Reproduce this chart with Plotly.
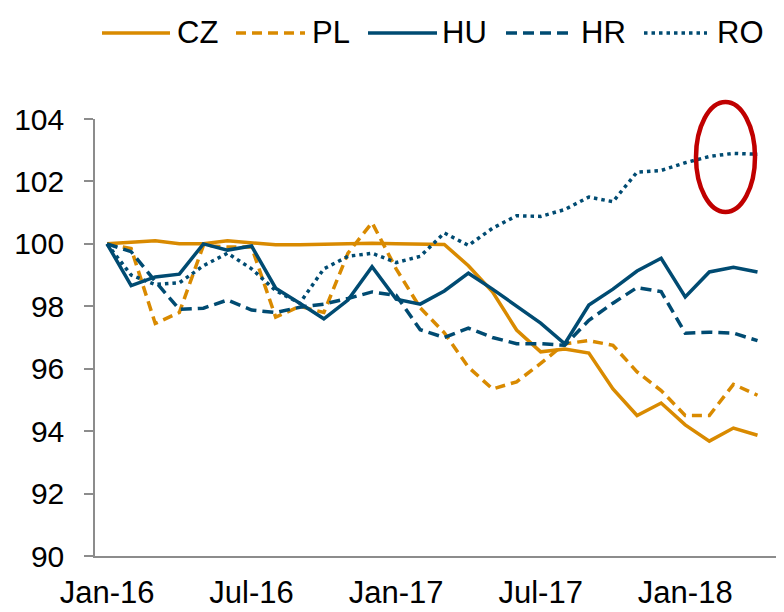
import plotly.graph_objects as go

months = ["Jan-16","Feb-16","Mar-16","Apr-16","May-16","Jun-16","Jul-16","Aug-16","Sep-16","Oct-16","Nov-16","Dec-16",
          "Jan-17","Feb-17","Mar-17","Apr-17","May-17","Jun-17","Jul-17","Aug-17","Sep-17","Oct-17","Nov-17","Dec-17",
          "Jan-18","Feb-18","Mar-18","Apr-18"]
tick_labels = ["Jan-16", "Jul-16", "Jan-17", "Jul-17", "Jan-18"]

cz = [100.0, 100.05, 100.1, 100.0, 100.0, 100.1, 100.03, 99.97, 99.97, 99.98, 100.0, 100.02,
      100.0, 99.98, 99.98, 99.3, 98.46, 97.24, 96.54, 96.63, 96.5, 95.35, 94.5, 94.9,
      94.2, 93.68, 94.1, 93.87]
pl = [100.0, 99.85, 97.45, 97.8, 99.95, 99.9, 99.9, 97.65, 98.0, 97.8, 99.7, 100.68,
      99.2, 97.95, 97.15, 96.05, 95.35, 95.58, 96.17, 96.8, 96.9, 96.75, 95.9, 95.3,
      94.5, 94.5, 95.5, 95.15]
hu = [100.0, 98.66, 98.94, 99.03, 100.0, 99.8, 99.93, 98.58, 98.1, 97.6, 98.2, 99.27,
      98.23, 98.07, 98.49, 99.06, 98.55, 98.0, 97.46, 96.8, 98.04, 98.55, 99.13, 99.54,
      98.3, 99.1, 99.25, 99.1]
hr = [100.0, 99.75, 98.8, 97.9, 97.94, 98.2, 97.88, 97.8, 97.97, 98.07, 98.25, 98.46,
      98.35, 97.25, 97.0, 97.3, 97.0, 96.8, 96.8, 96.75, 97.55, 98.1, 98.6, 98.47,
      97.14, 97.17, 97.14, 96.9]
ro = [100.0, 99.0, 98.7, 98.75, 99.3, 99.7, 99.2, 98.5, 98.1, 99.2, 99.6, 99.7,
      99.4, 99.6, 100.35, 99.95, 100.5, 100.9, 100.88, 101.1, 101.5, 101.35, 102.3, 102.35,
      102.6, 102.8, 102.9, 102.87]

ORANGE = "#D98A00"
BLUE = "#004B72"
series = [
    ("CZ", cz, ORANGE, "solid"),
    ("PL", pl, ORANGE, "10px,6px"),
    ("HU", hu, BLUE, "solid"),
    ("HR", hr, BLUE, "11px,6px"),
    ("RO", ro, BLUE, "3.5px,4px"),
]

# page body has an 8px margin; figure is sized so that it fills the window
OFF = 8
W, H = 784 - OFF, 612 - OFF
L, R, T, B = 95 - OFF, 0, 119 - OFF, H - (556 - OFF)
pw, ph = W - L - R, H - T - B

def px_x(x):  # screen pixel -> paper
    return (x - OFF - L) / pw

def px_y(y):
    return (H - B - (y - OFF)) / ph

x_idx = list(range(len(months)))
fig = go.Figure()
for name, vals, color, dash in series:
    fig.add_trace(go.Scatter(x=x_idx, y=vals, mode="lines", name=name,
                             line=dict(color=color, width=3.5, dash=dash),
                             showlegend=False, hovertext=months))

FONT = "Liberation Sans, Arial, sans-serif"
# manual legend
legend_pos = [(102, 170, 175), (236, 305, 310), (368, 437, 440), (506, 574, 579), (644, 707, 715)]
shapes = []
annotations = []
for (name, vals, color, dash), (x0, x1, tx) in zip(series, legend_pos):
    shapes.append(dict(type="line", xref="paper", yref="paper",
                       x0=px_x(x0), x1=px_x(x1), y0=px_y(33), y1=px_y(33),
                       line=dict(color=color, width=3.5, dash=dash)))
    annotations.append(dict(text=name, xref="paper", yref="paper", x=px_x(tx), y=px_y(33),
                            xanchor="left", yanchor="middle", showarrow=False,
                            font=dict(size=31, color="#000000", family=FONT)))

# red ellipse highlight
shapes.append(dict(type="circle", xref="paper", yref="paper",
                   x0=px_x(696), x1=px_x(755), y0=px_y(212), y1=px_y(102),
                   line=dict(color="#C00000", width=4.5)))

fig.update_layout(
    width=W, height=H,
    margin=dict(l=L, r=R, t=T, b=B),
    paper_bgcolor="white", plot_bgcolor="white",
    font=dict(family=FONT, size=30, color="#000000"),
    shapes=shapes, annotations=annotations,
    xaxis=dict(range=[-0.5, 28.1], tickvals=[0, 6, 12, 18, 24], ticktext=tick_labels,
               showline=True, linecolor="#8C8C8C", linewidth=1.5, ticks="",
               showgrid=False, zeroline=False, ticklabelstandoff=8, automargin=False,
               tickfont=dict(size=31, family=FONT)),
    yaxis=dict(range=[90, 104], tickvals=list(range(90, 105, 2)),
               showline=True, linecolor="#8C8C8C", linewidth=1.5,
               ticks="outside", ticklen=9, tickcolor="#8C8C8C", tickwidth=1.5,
               showgrid=False, zeroline=False, ticklabelstandoff=14, automargin=False,
               tickfont=dict(size=30, family=FONT)),
)

fig.write_html("out.html")
